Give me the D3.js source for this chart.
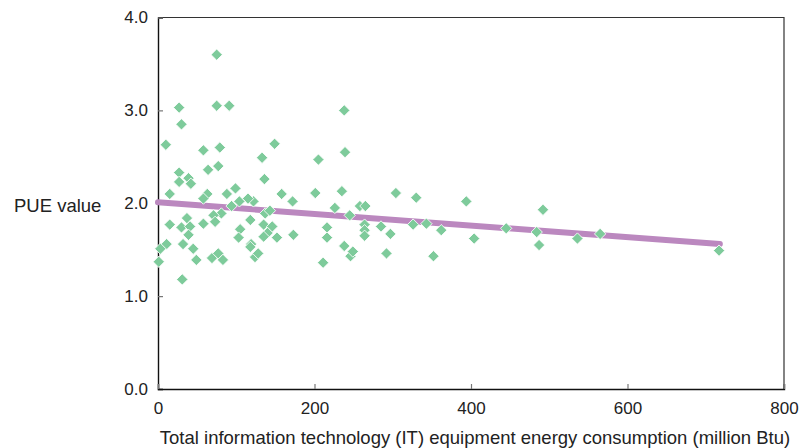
<!DOCTYPE html>
<html>
<head>
<meta charset="utf-8">
<script src="https://cdn.jsdelivr.net/npm/d3@7"></script>
<style>
  body { margin: 0; background: #fff; }
  text { font-family: "Liberation Sans", Arial, sans-serif; fill: #222; }
</style>
</head>
<body>
<svg id="chart" width="800" height="448"></svg>
<script>
// IT energy use (million Btu) vs PUE, one entry per building
var itEnergy = [75, 27, 75, 91, 30, 10, 149, 58, 79, 133, 64, 77, 27, 39, 27, 42, 136, 99, 88, 15,
  63, 58, 158, 122, 115, 104, 94, 81, 71, 73, 37, 58, 15, 30, 41, 39, 137, 143, 118, 135,
  146, 140, 135, 152, 105, 103, 119, 118, 32, 45, 11, 3, 1, 49, 69, 77, 83, 124, 128, 31,
  238, 205, 239, 172, 201, 235, 304, 330, 394, 226, 258, 265, 245, 173, 216, 216, 264, 264, 264, 285,
  297, 326, 343, 362, 238, 246, 249, 211, 292, 352, 492, 404, 445, 484, 487, 536, 565, 717];
var pueValue = [3.60, 3.03, 3.05, 3.05, 2.85, 2.63, 2.64, 2.57, 2.60, 2.49, 2.36, 2.40, 2.33, 2.27, 2.23, 2.21, 2.26, 2.16, 2.10, 2.10,
  2.10, 2.05, 2.10, 2.02, 2.05, 2.02, 1.97, 1.89, 1.87, 1.80, 1.84, 1.78, 1.77, 1.74, 1.75, 1.66, 1.89, 1.92, 1.82, 1.77,
  1.75, 1.68, 1.64, 1.63, 1.72, 1.63, 1.56, 1.53, 1.56, 1.51, 1.56, 1.51, 1.37, 1.39, 1.41, 1.46, 1.39, 1.42, 1.46, 1.18,
  3.00, 2.47, 2.55, 2.02, 2.11, 2.13, 2.11, 2.06, 2.02, 1.95, 1.97, 1.97, 1.87, 1.66, 1.74, 1.63, 1.77, 1.71, 1.65, 1.75,
  1.67, 1.77, 1.78, 1.71, 1.54, 1.43, 1.48, 1.36, 1.46, 1.43, 1.93, 1.62, 1.73, 1.69, 1.55, 1.62, 1.67, 1.49];

// trend line end points
var trendX = [0, 718];
var trendY = [2.01, 1.56];

var xTicks = [0, 200, 400, 600, 800];
var yTicks = [0, 1, 2, 3, 4];

(function() {
  var mLeft = 158, mRight = 784, mTop = 17.5, mBottom = 389;

  var svg = d3.select("#chart");

  var x = d3.scaleLinear().domain([0, 800]).range([mLeft, mRight]);
  var y = d3.scaleLinear().domain([0, 4]).range([mBottom, mTop]);

  // frame (top and right)
  svg.append("path")
    .attr("d", "M" + mLeft + "," + mTop + "H" + mRight + "V" + mBottom)
    .attr("fill", "none")
    .attr("stroke", "#333")
    .attr("stroke-width", 1.2);

  // Y axis
  var yAxis = d3.axisLeft(y).tickValues(yTicks).tickSize(-5).tickPadding(10)
    .tickFormat(d3.format(".1f"));
  var gy = svg.append("g").attr("transform", "translate(" + mLeft + ",0)").call(yAxis);

  // X axis
  var xAxis = d3.axisBottom(x).tickValues(xTicks).tickSize(-5).tickPadding(13)
    .tickFormat(d3.format("d"));
  var gx = svg.append("g").attr("transform", "translate(0," + mBottom + ")").call(xAxis);

  [gy, gx].forEach(function(g) {
    g.select(".domain").attr("stroke", "#111").attr("stroke-width", 1.4);
    g.selectAll(".tick line").attr("stroke", "#777").attr("stroke-width", 1.2);
    g.selectAll(".tick text").style("font-size", "17px")
      .style("font-family", "'Liberation Sans', Arial, sans-serif").attr("fill", "#222");
  });

  // trend line
  svg.append("line")
    .attr("x1", x(trendX[0])).attr("y1", y(trendY[0]))
    .attr("x2", x(trendX[1])).attr("y2", y(trendY[1]))
    .attr("stroke", "#bb88bf")
    .attr("stroke-width", 6)
    .attr("stroke-linecap", "round");

  // points
  var points = itEnergy.map(function(d, i) { return { x: d, y: pueValue[i] }; });
  svg.selectAll("rect.pt")
    .data(points)
    .enter()
    .append("rect")
    .attr("class", "pt")
    .attr("x", -4).attr("y", -4)
    .attr("width", 8).attr("height", 8)
    .attr("transform", function(d) {
      return "translate(" + x(d.x) + "," + y(d.y) + ") rotate(45)";
    })
    .attr("fill", "#7ecb9b")
    .attr("stroke", "#fff")
    .attr("stroke-width", 0.8);

  // axis titles
  svg.append("text")
    .attr("x", 475).attr("y", 444)
    .attr("text-anchor", "middle")
    .style("font-size", "18.5px")
    .text("Total information technology (IT) equipment energy consumption (million Btu)");

  svg.append("text")
    .attr("x", 14).attr("y", 212)
    .style("font-size", "18.5px")
    .text("PUE value");
})();
</script>
</body>
</html>
